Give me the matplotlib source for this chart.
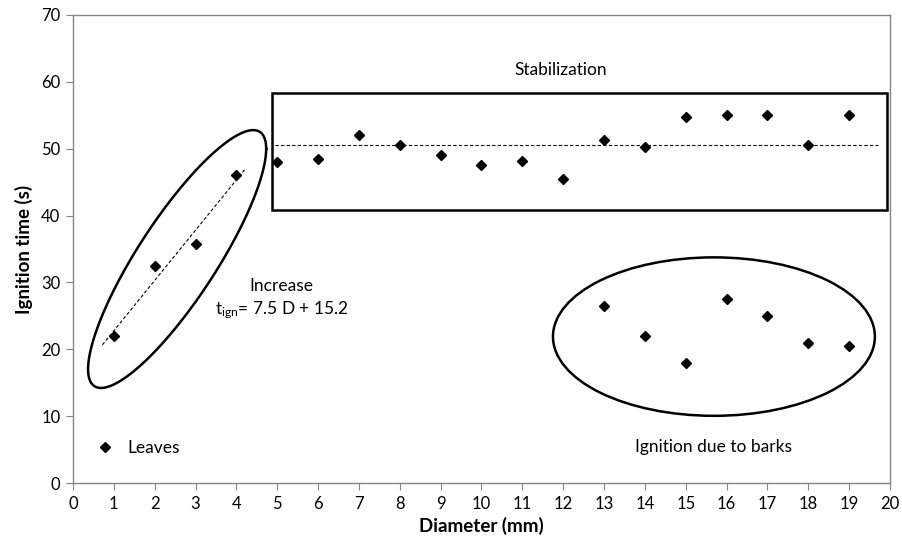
import numpy as np
import matplotlib.pyplot as plt
from matplotlib.patches import Rectangle, Ellipse

plt.rcParams['font.family'] = ['Lato', 'DejaVu Sans']

# Mesures : diamètre (mm) et temps d'allumage (s)
d_leaves = [1, 2, 3, 4]
t_leaves = [22, 32.5, 35.7, 46]

d_stab = [5, 6, 7, 8, 9, 10, 11, 12, 13, 14, 15, 16, 17, 18, 19]
t_stab = [48, 48.5, 52, 50.5, 49.1, 47.6, 48.1, 45.4, 51.3, 50.2, 54.7, 55, 55, 50.5, 55]

d_bark = [13, 14, 15, 16, 17, 18, 19]
t_bark = [26.5, 22, 18, 27.5, 25, 21, 20.5]

stab_mean = 50.5

fig = plt.figure(figsize=(9.03, 5.49), dpi=100)
ax = fig.add_axes([0.0808, 0.1202, 0.9048, 0.8525])

ax.plot(d_leaves, t_leaves, 'kD', ms=5.5)
ax.plot(d_stab, t_stab, 'kD', ms=5.5)
ax.plot(d_bark, t_bark, 'kD', ms=5.5)

# droite de tendance (increase)
pente, ordo = np.polyfit(d_leaves, t_leaves, 1)
xx = np.array([0.72, 4.2])
ax.plot(xx, pente * xx + ordo, 'k--', lw=0.8, dashes=(3, 2))

# moyenne stabilisation
ax.plot([4.95, 19.7], [stab_mean, stab_mean], 'k--', lw=0.8, dashes=(3, 2))

# cadre stabilisation
ax.add_patch(Rectangle((4.86, 40.9), 15.06, 17.4, fill=False, lw=1.8, ec='k'))

# ellipse inclinée (leaves) en coordonnées données
t = np.linspace(0, 2 * np.pi, 300)
cx, cy = 2.55, 33.5
A, B = 2.18, 0.0
C, D = 16.47, -10.03
ax.plot(cx + A * np.cos(t) + B * np.sin(t), cy + C * np.cos(t) + D * np.sin(t), 'k', lw=1.8)

# ellipse barks
ax.add_patch(Ellipse((15.69, 21.9), 7.88, 23.7, fill=False, lw=1.8, ec='k'))

fs = 12.5
ax.text(11.95, 61.7, 'Stabilization', ha='center', va='center', fontsize=fs)
ax.text(5.1, 29.4, 'Increase', ha='center', va='center', fontsize=fs)
ax.text(5.1, 25.9, r'$\mathregular{t_{ign}}$= 7.5 D + 15.2', ha='center', va='center', fontsize=fs)
ax.text(15.67, 5.4, 'Ignition due to barks', ha='center', va='center', fontsize=fs)

# légende
ax.plot([0.78], [5.4], 'kD', ms=5.5)
ax.text(1.34, 5.2, 'Leaves', ha='left', va='center', fontsize=fs)

ax.set_xlim(0, 20)
ax.set_ylim(0, 70)
ax.set_xticks(range(0, 21))
ax.set_yticks(range(0, 71, 10))
ax.tick_params(direction='out', length=5, color='#868686', labelsize=12, pad=4)
for s in ax.spines.values():
    s.set_color('#868686')
    s.set_linewidth(1)

ax.set_xlabel('Diameter (mm)', fontweight='bold', fontsize=13.5, labelpad=4)
ax.set_ylabel('Ignition time (s)', fontweight='bold', fontsize=13.5, labelpad=6)

plt.savefig('out.png', dpi=100)
